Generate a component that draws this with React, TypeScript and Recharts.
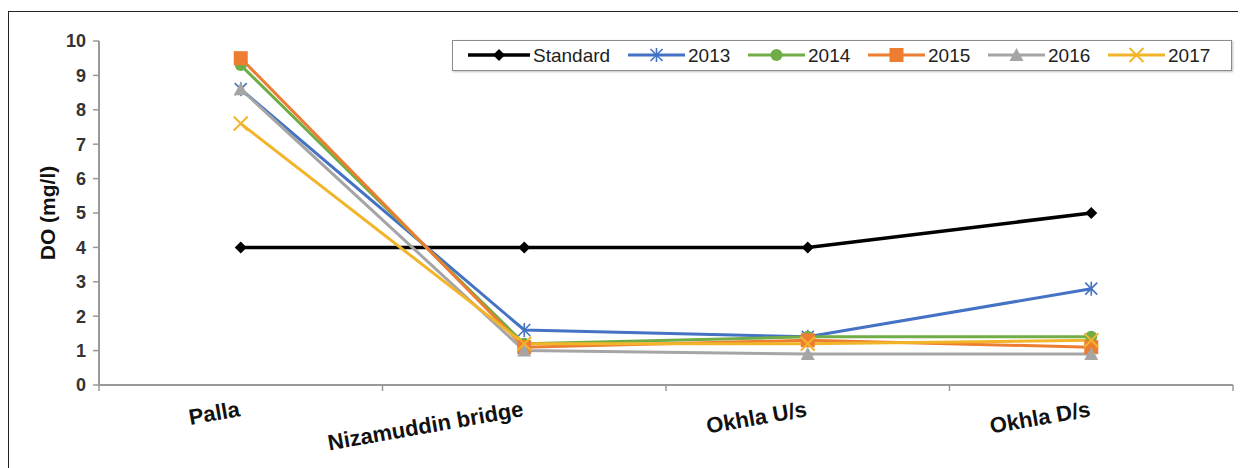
import React from 'react';
import { LineChart, Line, XAxis, YAxis, Legend } from 'recharts';

// DO readings by monitoring site, Yamuna
const sites = ['Palla', 'Nizamuddin bridge', 'Okhla U/s', 'Okhla D/s'];
const standard = [4, 4, 4, 5];
const do2013 = [8.6, 1.6, 1.4, 2.8];
const do2014 = [9.3, 1.2, 1.4, 1.4];
const do2015 = [9.5, 1.1, 1.3, 1.1];
const do2016 = [8.6, 1.0, 0.9, 0.9];
const do2017 = [7.6, 1.2, 1.2, 1.3];
const yTicks = [0, 1, 2, 3, 4, 5, 6, 7, 8, 9, 10];
const xTicks = [0, 0.5, 1, 1.5, 2, 2.5, 3, 3.5, 4];

const FONT = "'Liberation Sans', Arial, sans-serif";

type Shape = 'diamond' | 'star' | 'circle' | 'square' | 'triangle' | 'cross';

const series: { key: string; name: string; color: string; width: number; shape: Shape; values: number[] }[] = [
  { key: 'standard', name: 'Standard', color: '#000000', width: 3.5, shape: 'diamond', values: standard },
  { key: 'y2013', name: '2013', color: '#4472C4', width: 3, shape: 'star', values: do2013 },
  { key: 'y2014', name: '2014', color: '#70AD47', width: 3, shape: 'circle', values: do2014 },
  { key: 'y2015', name: '2015', color: '#ED7D31', width: 3, shape: 'square', values: do2015 },
  { key: 'y2016', name: '2016', color: '#A5A5A5', width: 3, shape: 'triangle', values: do2016 },
  { key: 'y2017', name: '2017', color: '#F2B52A', width: 3, shape: 'cross', values: do2017 },
];

const data = sites.map((site, i) => {
  const row: Record<string, number | string> = { site, pos: i + 0.5 };
  series.forEach((s) => {
    row[s.key] = s.values[i];
  });
  return row;
});

function Marker({ shape, cx, cy, color }: { shape: Shape; cx: number; cy: number; color: string }) {
  if (cx == null || cy == null) return null;
  switch (shape) {
    case 'diamond':
      return <polygon points={`${cx},${cy - 6} ${cx + 6},${cy} ${cx},${cy + 6} ${cx - 6},${cy}`} fill={color} />;
    case 'star':
      return (
        <g stroke={color} strokeWidth={1.6}>
          <line x1={cx - 6} y1={cy - 6} x2={cx + 6} y2={cy + 6} />
          <line x1={cx - 6} y1={cy + 6} x2={cx + 6} y2={cy - 6} />
          <line x1={cx} y1={cy - 7} x2={cx} y2={cy + 7} />
        </g>
      );
    case 'circle':
      return <circle cx={cx} cy={cy} r={6} fill={color} />;
    case 'square':
      return <rect x={cx - 7} y={cy - 7} width={14} height={14} fill={color} />;
    case 'triangle':
      return <polygon points={`${cx},${cy - 7} ${cx + 7},${cy + 6} ${cx - 7},${cy + 6}`} fill={color} />;
    case 'cross':
      return (
        <g stroke={color} strokeWidth={2}>
          <line x1={cx - 7} y1={cy - 7} x2={cx + 7} y2={cy + 7} />
          <line x1={cx - 7} y1={cy + 7} x2={cx + 7} y2={cy - 7} />
        </g>
      );
    default:
      return null;
  }
}

// integer ticks = category boundaries (tick marks), half ticks = site labels
function XTick(props: any) {
  const { x, y, payload } = props;
  const v = payload.value as number;
  if (Number.isInteger(v)) {
    return <line x1={x} y1={y} x2={x} y2={y + 6} stroke="#999" strokeWidth={1.5} />;
  }
  const label = sites[Math.floor(v)];
  return (
    <g transform={`translate(${x},${y + 31}) rotate(-10)`}>
      <text x={0} y={0} textAnchor="end" fontSize={22} fontWeight="bold" fill="#111" fontFamily={FONT}>
        {label}
      </text>
    </g>
  );
}

function YLabel(props: any) {
  const { viewBox } = props;
  const cx = viewBox.x + 39;
  const cy = viewBox.y + viewBox.height / 2;
  return (
    <text
      x={cx}
      y={cy}
      transform={`rotate(-90, ${cx}, ${cy})`}
      textAnchor="middle"
      dominantBaseline="central"
      fontSize={21}
      fontWeight="bold"
      fill="#111"
      fontFamily={FONT}
    >
      DO (mg/l)
    </text>
  );
}

function LegendBox() {
  return (
    <div
      style={{
        width: 780,
        height: 31,
        boxSizing: 'border-box',
        border: '1.5px solid #8c8c8c',
        boxShadow: '1px 1px 2px rgba(0,0,0,0.25)',
        background: '#fff',
      }}
    >
      <svg width={777} height={28} style={{ display: 'block' }}>
        {series.map((s, i) => {
          const lineX = i === 0 ? 15 : 175 + (i - 1) * 120;
          const len = i === 0 ? 62 : 57;
          return (
            <g key={s.key}>
              <line x1={lineX} y1={14} x2={lineX + len} y2={14} stroke={s.color} strokeWidth={s.width} />
              <Marker shape={s.shape} cx={lineX + len / 2} cy={14} color={s.color} />
              <text x={lineX + len + 3} y={14} dominantBaseline="central" fontSize={19} fill="#222" fontFamily={FONT}>
                {s.name}
              </text>
            </g>
          );
        })}
      </svg>
    </div>
  );
}

export default function App() {
  return (
    <div style={{ position: 'relative', width: 1238, height: 460, overflow: 'hidden', background: '#fff' }}>
      <div
        style={{
          position: 'absolute',
          left: 0,
          top: 3,
          width: 1300,
          height: 520,
          border: '1.5px solid #222',
        }}
      />
      <div style={{ position: 'absolute', left: 0, top: 0 }}>
        <LineChart
          width={1238}
          height={460}
          data={data}
          margin={{ top: 33, right: 13, bottom: 0, left: 0 }}
          style={{ fontFamily: FONT }}
        >
          <XAxis
            dataKey="pos"
            type="number"
            domain={[0, 4]}
            ticks={xTicks}
            interval={0}
            tick={<XTick />}
            tickLine={false}
            tickSize={0}
            tickMargin={0}
            height={83}
            axisLine={{ stroke: '#999', strokeWidth: 2 }}
          />
          <YAxis
            type="number"
            domain={[0, 10]}
            ticks={yTicks}
            interval={0}
            width={91}
            tickSize={6}
            tickMargin={7}
            tickLine={{ stroke: '#999', strokeWidth: 1.5 }}
            axisLine={{ stroke: '#999', strokeWidth: 2 }}
            tick={{ fontSize: 18, fontWeight: 'bold', fill: '#333', fontFamily: FONT }}
            label={{ value: 'DO (mg/l)', content: (p: any) => <YLabel {...p} /> }}
          />
          <Legend
            layout="horizontal"
            verticalAlign="middle"
            align="center"
            wrapperStyle={{ left: 444, top: 32, width: 780, height: 31 }}
            content={() => <LegendBox />}
          />
          {series.map((s) => (
            <Line
              key={s.key}
              dataKey={s.key}
              name={s.name}
              stroke={s.color}
              strokeWidth={s.width}
              isAnimationActive={false}
              activeDot={false}
              dot={(p: any) => (
                <Marker key={`${s.key}-${p.index}`} shape={s.shape} cx={p.cx} cy={p.cy} color={s.color} />
              )}
            />
          ))}
        </LineChart>
      </div>
    </div>
  );
}
